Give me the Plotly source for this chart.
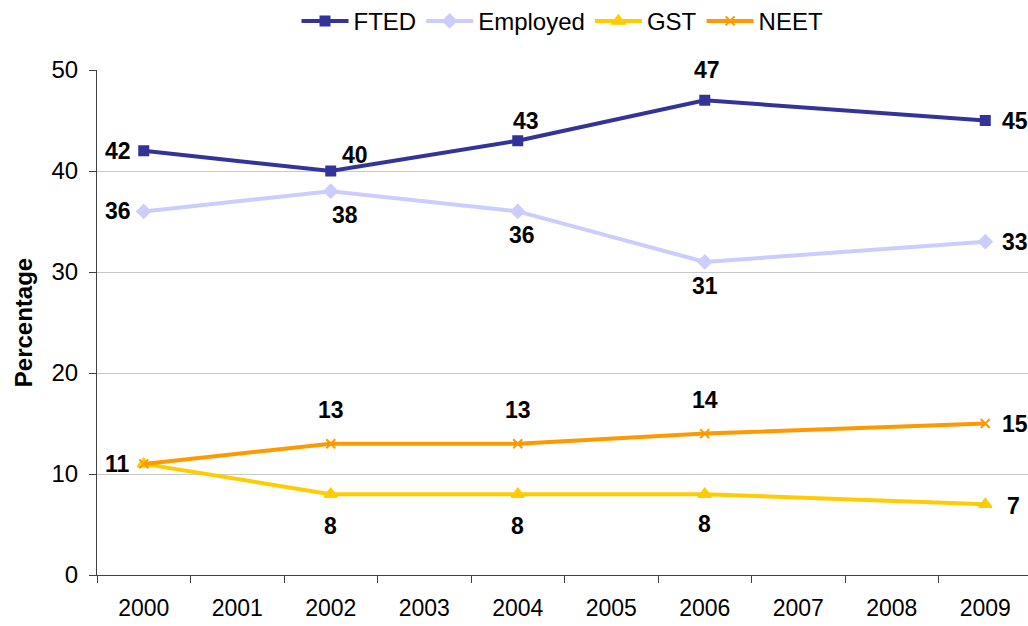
import plotly.graph_objects as go

years = ["2000", "2001", "2002", "2003", "2004", "2005", "2006", "2007", "2008", "2009"]
survey_years = ["2000", "2002", "2004", "2006", "2009"]
fted = [42, 40, 43, 47, 45]
employed = [36, 38, 36, 31, 33]
gst = [11, 8, 8, 8, 7]
neet = [11, 13, 13, 14, 15]
y_ticks = [0, 10, 20, 30, 40, 50]

series = [
    ("FTED", fted, "#333399", "square", 9),
    ("Employed", employed, "#CCCCFF", "diamond", 10),
    ("GST", gst, "#FFCC00", "triangle-up", 11),
    ("NEET", neet, "#FF9900", "x-thin", 9),
]

fig = go.Figure()
for name, vals, color, symbol, size in series:
    fig.add_trace(go.Scatter(
        x=survey_years, y=vals, name=name, mode="lines+markers",
        line=dict(color=color, width=4),
        marker=dict(symbol=symbol, size=size, color=color,
                    line=dict(color=color, width=2)),
        cliponaxis=False,
    ))

# label offsets (xshift, yshift) per point; None = no label
offsets = {
    "FTED": [(-26, 0), (24, 16), (8, 20), (2, 30), (30, 0)],
    "Employed": [(-26, 0), (14, -24), (4, -24), (0, -24), (30, 0)],
    "GST": [(-26, 0), (0, -32), (0, -32), (0, -30), (28, -2)],
    "NEET": [None, (0, 34), (0, 34), (0, 34), (30, 0)],
}
for name, vals, color, symbol, size in series:
    for xv, yv, off in zip(survey_years, vals, offsets[name]):
        if off is None:
            continue
        fig.add_annotation(
            x=years.index(xv), y=yv, xref="x", yref="y", text=f"<b>{yv}</b>",
            showarrow=False, xshift=off[0], yshift=off[1],
            font=dict(family="Liberation Sans, Arial", size=23, color="black"),
        )

fig.update_layout(
    width=1028, height=626,
    margin=dict(l=97, r=0, t=70, b=51),
    paper_bgcolor="white", plot_bgcolor="white",
    font=dict(family="Liberation Sans, Arial", size=22, color="black"),
    showlegend=True,
    legend=dict(orientation="h", x=0.5, xanchor="center", y=0.966, yanchor="middle",
                yref="container", font=dict(size=24), traceorder="normal",
                itemwidth=47),
)

fig.update_xaxes(
    type="category", categoryorder="array", categoryarray=years,
    range=[-0.5, 9.457], tickson="boundaries", ticks="outside", ticklen=7,
    tickcolor="#404040", showline=True, linecolor="#404040", linewidth=1,
    showgrid=False, tickfont=dict(size=23), ticklabelstandoff=12,
)
fig.update_yaxes(
    range=[0, 50], tickvals=y_ticks, ticks="outside", ticklen=7,
    tickcolor="#404040", showline=True, linecolor="#404040", linewidth=1,
    showgrid=True, gridcolor="#C8C8C8", gridwidth=1, zeroline=False,
    tickfont=dict(size=24), ticklabelstandoff=6,
    title=dict(text="<b>Percentage</b>", font=dict(size=24), standoff=12),
)

fig.write_html("out.html")
